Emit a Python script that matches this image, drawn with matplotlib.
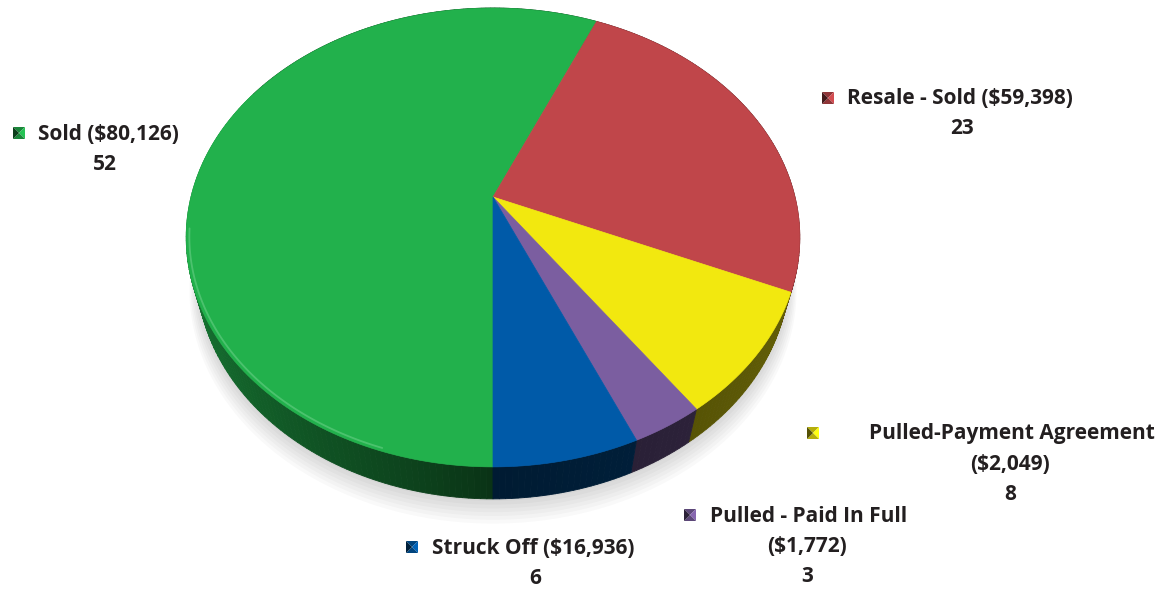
import numpy as np
import matplotlib.pyplot as plt
from matplotlib.patches import Polygon
from matplotlib.colors import to_rgb

labels = ["Sold ($80,126)", "Resale - Sold ($59,398)", "Pulled-Payment Agreement\n($2,049)",
          "Pulled - Paid In Full\n($1,772)", "Struck Off ($16,936)"]
counts = [52, 23, 8, 3, 6]
colors = ["#22b14c", "#c0464a", "#f2e80f", "#7b5ea0", "#005aa8"]

# perspective pie geometry (pixels)
cx, cy = 493, 197
S = 302
tilt = np.radians(42.6)
dist = 3.84
thick = 0.18


def proj(th, r=1.0, h=0.0):
    # th: degrees clockwise from 12 o'clock
    t = np.radians(th)
    x = r * np.sin(t)
    yd = r * np.cos(t)
    Y = yd * np.cos(tilt) + h * np.sin(tilt)
    Z = yd * np.sin(tilt) - h * np.cos(tilt)
    f = dist / (dist + Z)
    return cx + S * x * f, cy - S * Y * f


def side_k(th):
    th = th % 360
    if th < 90 or th > 300:
        return 0.25
    if th <= 180:
        return 0.3 + 0.15 * (180 - th) / 90
    return 0.28 + 0.45 * ((th - 180) / 90) ** 0.8


fig = plt.figure(figsize=(11.64, 5.91), dpi=100)
ax = fig.add_axes([0, 0, 1, 1])
ax.set_xlim(0, 1164)
ax.set_ylim(591, 0)
ax.axis("off")

total = sum(counts)
edges = 180 + np.concatenate([[0], np.cumsum(counts)]) / total * 360

# soft shadow
ring = np.linspace(0, 360, 200)
for i in range(7):
    sx, sy = proj(ring, r=1.0 + 0.004 * i, h=-thick)
    ax.add_patch(Polygon(np.c_[sx, sy + 2 + 2.5 * i], closed=True, fc="#000000",
                         ec="none", alpha=0.025, zorder=1))

# side walls
for a0, a1, c in zip(edges[:-1], edges[1:], colors):
    base = np.array(to_rgb(c))
    n = max(int((a1 - a0) / 1.0), 2)
    aa = np.linspace(a0, a1, n + 1)
    for b0, b1 in zip(aa[:-1], aa[1:]):
        tx, ty = proj(np.array([b0, b1]))
        bx, by = proj(np.array([b1, b0]), h=-thick)
        col = np.clip(base * side_k((b0 + b1) / 2), 0, 1)
        ax.add_patch(Polygon(np.c_[np.r_[tx, bx], np.r_[ty, by]], closed=True,
                             fc=col, ec=col, lw=0.6, zorder=2))

# top faces
for a0, a1, c in zip(edges[:-1], edges[1:], colors):
    aa = np.linspace(a0, a1, 200)
    px, py = proj(aa)
    ax.add_patch(Polygon(np.c_[np.r_[cx, px], np.r_[cy, py]], closed=True,
                         fc=c, ec=c, lw=0.5, zorder=3))

# light rim on front edge
hl = np.linspace(198, 262, 100)
hx, hy = proj(hl, r=0.99)
ax.plot(hx, hy, color="#7fd898", lw=1.3, alpha=0.45, zorder=4, solid_capstyle="round")

# labels
font = dict(family="Open Sans", fontweight="bold", fontsize=15, color="#231f20")
lab_pos = [(19, 133, 38, 105), (828, 98, 847, 962), (813, 433, 869, 1010),
           (690, 515, 710, 807), (412, 547, 432, 535)]


def marker(x, y, c, s=6):
    base = np.array(to_rgb(c))
    sq = [(x - s, y - s), (x + s, y - s), (x + s, y + s), (x - s, y + s)]
    tri = [(sq[0], sq[1]), (sq[1], sq[2]), (sq[2], sq[3]), (sq[3], sq[0])]
    shades = [0.75, 1.1, 0.75, 0.35]
    for (p, q), k in zip(tri, shades):
        ax.add_patch(Polygon([p, q, (x, y)], closed=True,
                             fc=np.clip(base * k, 0, 1), ec="none", zorder=5))


for (mx, my, tx, nx), lab, n, c in zip(lab_pos, labels, counts, colors):
    marker(mx, my, c)
    lines = lab.split("\n")
    ax.text(tx, my + 1, lines[0], ha="left", va="center", **font)
    yy = my + 1
    for ln in lines[1:]:
        yy += 30
        ax.text(nx, yy, ln, ha="center", va="center", **font)
    ax.text(nx, yy + 30, str(n), ha="center", va="center", **font)

fig.savefig("out.png", dpi=100)
